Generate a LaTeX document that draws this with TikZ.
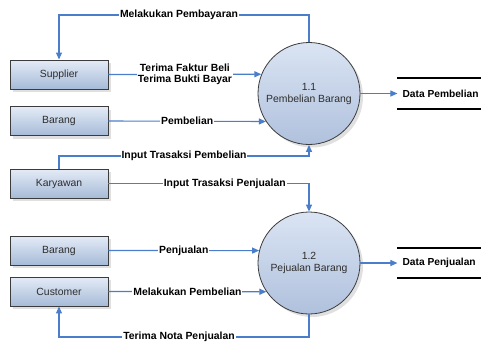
\documentclass[tikz,border=0pt]{standalone}
\usepackage{fontspec}
\setmainfont{Liberation Sans}
\usetikzlibrary{positioning, arrows.meta, shadows}

\definecolor{flowblue}{RGB}{74,126,203}
\definecolor{boxtop}{RGB}{228,235,246}
\definecolor{boxbot}{RGB}{166,187,216}
\definecolor{proctop}{RGB}{218,228,243}
\definecolor{procbot}{RGB}{176,193,221}
\definecolor{edgegray}{RGB}{60,60,60}
\definecolor{textgray}{RGB}{45,45,45}

\begin{document}
\begin{tikzpicture}[
    x=1pt, y=-1pt,
    font=\fontsize{10.4}{12}\selectfont,
    entity/.style={rectangle, draw=edgegray, line width=0.9pt, top color=boxtop, bottom color=boxbot, minimum width=98pt, minimum height=29pt, text=textgray, drop shadow={shadow xshift=3pt, shadow yshift=-3pt, fill=black!12, opacity=1}},
    process/.style={circle, draw=edgegray, line width=0.8pt, top color=proctop, bottom color=procbot, minimum size=102pt, inner sep=0pt, align=center, text=textgray, drop shadow={shadow xshift=3pt, shadow yshift=-3pt, fill=black!12, opacity=1}},
    store/.style={inner xsep=5pt, minimum height=30pt, font=\fontsize{10.2}{12}\selectfont\bfseries, anchor=west},
    storeline/.style={draw=black, line width=2.2pt},
    flow/.style={-{Triangle[length=7pt,width=6pt]}, draw=flowblue, line width=1.1pt},
    lbl/.style={fill=white, inner sep=1pt, font=\fontsize{10.4}{11.5}\selectfont\bfseries, align=center},
]
\useasboundingbox (0,0) rectangle (481,343);

% External entities
\node[entity] (sup) at (59,74.5) {Supplier};
\node[entity] (bar1) at (59,121) {Barang};
\node[entity] (kar) at (59,183.5) {Karyawan};
\node[entity] (bar2) at (59,250.5) {Barang};
\node[entity] (cus) at (59,291.5) {Customer};

% Processes
\node[process] (p1) at (309,93.5) {1.1\\Pembelian Barang};
\node[process] (p2) at (309,263) {1.2\\Pejualan Barang};

% Data stores
\node[store, right=37pt of p1] (dbeli) {Data Pembelian};
\node[store, right=37pt of p2] (djual) {Data Penjualan};
\draw[storeline] (dbeli.north west) -- ++(84,0);
\draw[storeline] (dbeli.south west) -- ++(84,0);
\draw[storeline] (djual.north west) -- ++(84,0);
\draw[storeline] (djual.south west) -- ++(84,0);

% Bends
\coordinate (pay) at (309,15);
\coordinate (inbuy) at (309,156);
\coordinate (nota) at (309,337);

% Pembelian flows
\draw[flow] (p1.north) -- (pay) -| node[lbl, pos=0.26] {Melakukan Pembayaran} (sup.north);
\draw[flow] (sup.east) -- node[lbl] {Terima Faktur Beli\\Terima Bukti Bayar} (p1.158);
\draw[flow] (bar1.east) -- node[lbl] {Pembelian} (p1.213);
\draw[flow] (kar.north) |- node[lbl, pos=0.75] {Input Trasaksi Pembelian} (inbuy) -- (p1.south);
\draw[flow] (p1.east) -- (dbeli.west);

% Penjualan flows
\draw[flow] (kar.east) -| node[lbl, pos=0.29] {Input Trasaksi Penjualan} (p2.north);
\draw[flow] (bar2.east) -- node[lbl] {Penjualan} (p2.166);
\draw[flow] (cus.east) -- node[lbl] {Melakukan Pembelian} (p2.214);
\draw[flow] (p2.south) -- (nota) -| node[lbl, pos=0.26] {Terima Nota Penjualan} (cus.south);
\draw[flow] (p2.east) -- (djual.west);

\end{tikzpicture}
\end{document}
